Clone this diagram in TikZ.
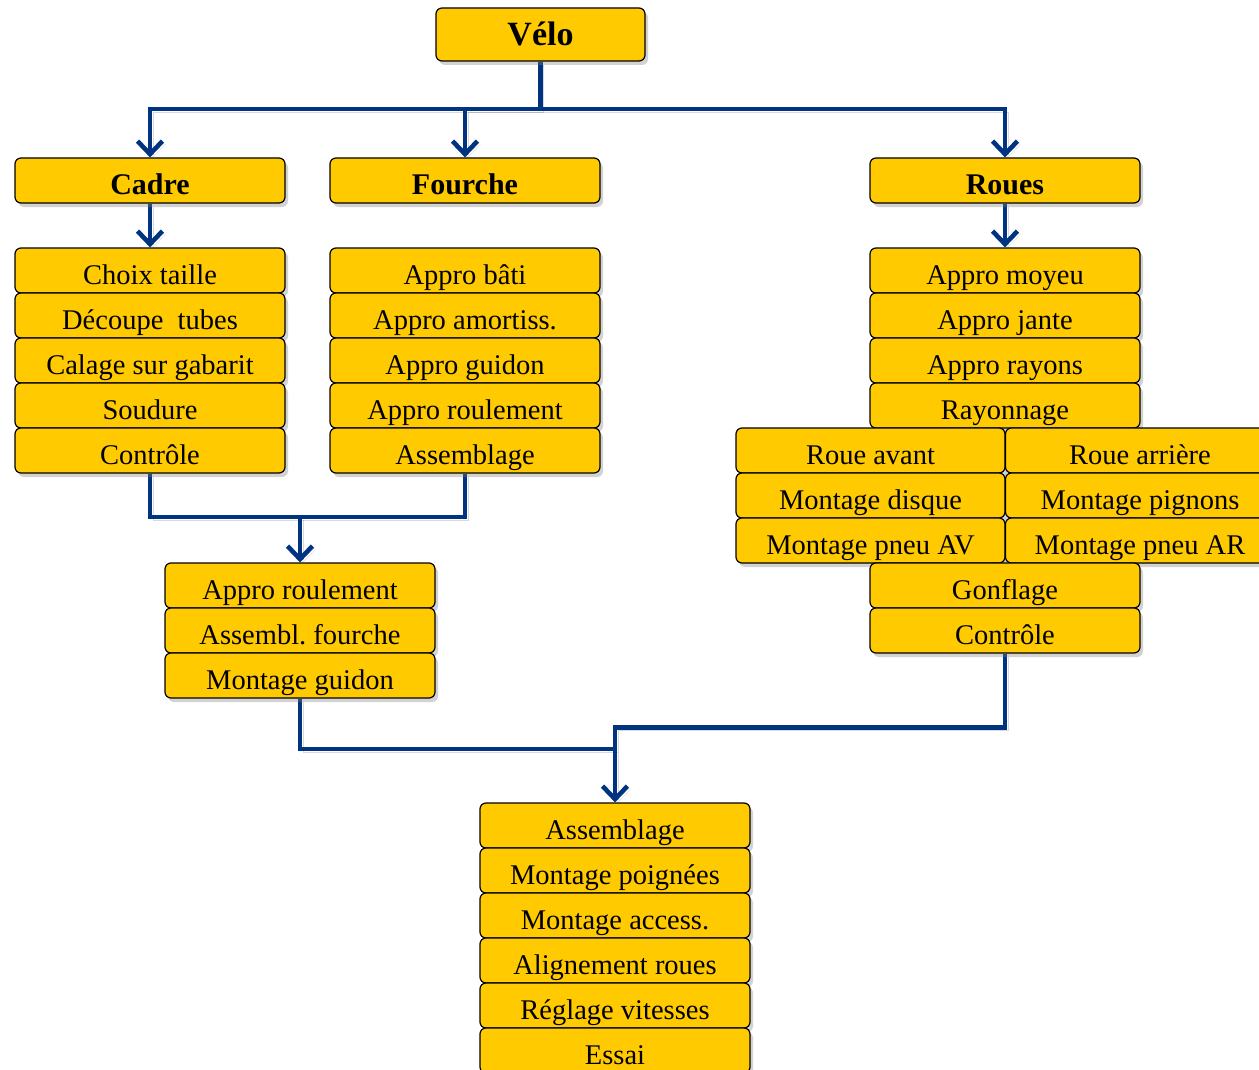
\documentclass[tikz,border=0pt]{standalone}
\usepackage{fontspec}
\setmainfont{Liberation Serif}
\frenchspacing
\usetikzlibrary{arrows.meta,shadows,backgrounds}
\definecolor{boxfill}{RGB}{255,202,0}
\definecolor{linkblue}{RGB}{0,51,128}
\tikzset{
  box/.style={draw=black, line width=1.2pt, fill=boxfill, rounded corners=6pt,
    minimum width=270pt, minimum height=45pt, inner sep=0pt,
    text height=27pt, text depth=0pt,
    drop shadow={opacity=0.35, shadow xshift=3pt, shadow yshift=-4pt},
    font=\fontsize{28.5}{30}\selectfont},
  halfbox/.style={box, minimum width=269pt},
  titlebox/.style={box, font=\fontsize{30}{32}\selectfont\bfseries},
  conn/.style={draw=linkblue, line width=4.6pt,
    preaction={draw=black, draw opacity=0.15, transform canvas={shift={(3pt,-3pt)}}}},
  arr/.style={conn, -{Straight Barb[length=13pt,width=25pt]}},
}
\begin{document}
\begin{tikzpicture}[x=1pt,y=-1pt]
\clip (0,0) rectangle (1259,1070);

% top
\node[box, minimum width=209pt, minimum height=53pt, text height=23pt,
  font=\fontsize{34}{36}\selectfont\bfseries] (velo) at (540.5,34.5) {Vélo};

\node[titlebox] (cadre) at (150,180.5) {Cadre};
\node[titlebox] (fourche) at (465,180.5) {Fourche};
\node[titlebox] (roues) at (1005,180.5) {Roues};

% cadre column
\node[box] (c1) at (150,270.5) {Choix taille};
\node[box] (c2) at (150,315.5) {Découpe\ \ tubes};
\node[box] (c3) at (150,360.5) {Calage sur gabarit};
\node[box] (c4) at (150,405.5) {Soudure};
\node[box] (c5) at (150,450.5) {Contrôle};

% fourche column
\node[box] (f1) at (465,270.5) {Appro bâti};
\node[box] (f2) at (465,315.5) {Appro amortiss.};
\node[box] (f3) at (465,360.5) {Appro guidon};
\node[box] (f4) at (465,405.5) {Appro roulement};
\node[box] (f5) at (465,450.5) {Assemblage};

% roues column
\node[box] (r1) at (1005,270.5) {Appro moyeu};
\node[box] (r2) at (1005,315.5) {Appro jante};
\node[box] (r3) at (1005,360.5) {Appro rayons};
\node[box] (r4) at (1005,405.5) {Rayonnage};
\node[halfbox] (ra1) at (870.5,450.5) {Roue avant};
\node[halfbox] (rb1) at (1140,450.5) {Roue arrière};
\node[halfbox] (ra2) at (870.5,495.5) {Montage disque};
\node[halfbox] (rb2) at (1140,495.5) {Montage pignons};
\node[halfbox] (ra3) at (870.5,540.5) {Montage pneu AV};
\node[halfbox] (rb3) at (1140,540.5) {Montage pneu AR};
\node[box] (r5) at (1005,585.5) {Gonflage};
\node[box] (r6) at (1005,630.5) {Contrôle};

% middle left
\node[box] (m1) at (300,585.5) {Appro roulement};
\node[box] (m2) at (300,630.5) {Assembl. fourche};
\node[box] (m3) at (300,675.5) {Montage guidon};

% bottom
\node[box] (b1) at (615,825.5) {Assemblage};
\node[box] (b2) at (615,870.5) {Montage poignées};
\node[box] (b3) at (615,915.5) {Montage access.};
\node[box] (b4) at (615,960.5) {Alignement roues};
\node[box] (b5) at (615,1005.5) {Réglage vitesses};
\node[box] (b6) at (615,1050.5) {Essai};

% connectors
\begin{pgfonlayer}{background}
\fill[white] (0,0) rectangle (1259,1070);
\coordinate (jtop) at (540.5,109);
\draw[conn] (velo.south) -- (jtop);
\draw[arr] (jtop) -| (cadre.north);
\draw[arr] (jtop) -| (fourche.north);
\draw[arr] (jtop) -| (roues.north);
\draw[arr] (cadre.south) -- (c1.north);
\draw[arr] (roues.south) -- (r1.north);

\coordinate (jmid) at (300,517);
\draw[conn] (c5.south) |- (jmid);
\draw[conn] (f5.south) |- (jmid);
\draw[arr] (jmid) -- (m1.north);

\coordinate (jbot) at (615,749);
\draw[conn] (m3.south) |- (jbot);
\draw[conn] (r6.south) -- ++(0,74) -| (jbot);
\draw[arr] (jbot) -- (b1.north);
\end{pgfonlayer}
\end{tikzpicture}
\end{document}
